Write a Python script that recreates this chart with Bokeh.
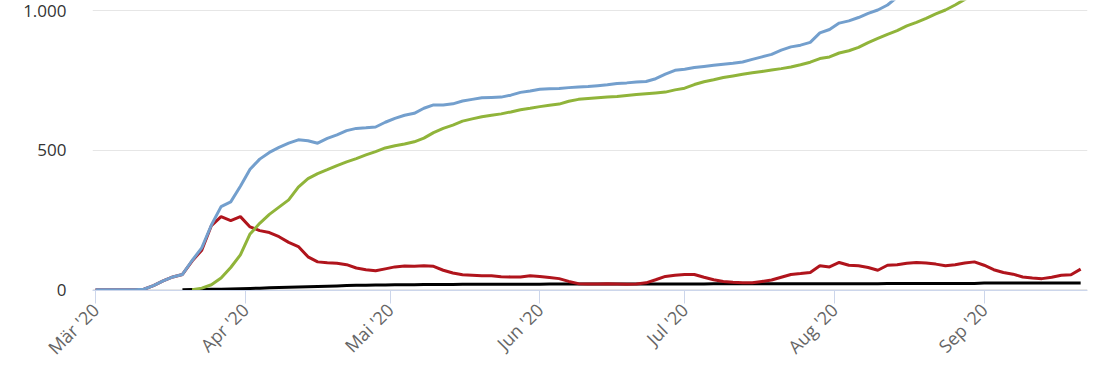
import math
import pandas as pd
from bokeh.plotting import figure
from bokeh.models import FixedTicker, CustomJSTickFormatter, Range1d
from bokeh.embed import file_html
from bokeh.resources import INLINE

nan = float("nan")

# values every 2 days starting 2020-03-01
start_date = "2020-03-01"
step = "2D"

confirmed = [
    0, 0, 0, 0, 0, 2, 15, 32, 46, 55,
    105, 150, 232, 298, 315, 371, 432, 468, 492, 510,
    525, 537, 534, 525, 542, 555, 570, 578, 580, 583,
    600, 614, 625, 632, 650, 662, 662, 666, 676, 682,
    688, 689, 690, 697, 707, 712, 718, 720, 721, 724,
    726, 728, 731, 734, 739, 741, 744, 746, 756, 772,
    786, 790, 796, 800, 804, 808, 811, 816, 825, 834,
    843, 858, 870, 876, 886, 920, 932, 955, 963, 975,
    990, 1002, 1020, 1048, 1075, 1092, 1110, 1128, 1145, 1160,
    1178, 1195, 1210, 1222, 1234, 1245, 1254, 1262, 1270, 1280,
    1290, 1298, 1310,
]

recovered = [
    nan, nan, nan, nan, nan, nan, nan, nan, nan, nan,
    0, 6, 18, 42, 80, 125, 200, 238, 270, 296,
    322, 368, 398, 416, 430, 445, 458, 470, 483, 495,
    508, 516, 522, 530, 543, 563, 578, 590, 604, 612,
    620, 625, 630, 637, 645, 650, 656, 661, 665, 675,
    682, 685, 688, 690, 692, 696, 699, 702, 705, 708,
    716, 722, 735, 745, 752, 760, 766, 772, 777, 782,
    787, 792, 798, 806, 815, 828, 834, 848, 856, 868,
    885, 900, 915, 928, 945, 958, 972, 988, 1002, 1020,
    1040, 1058, 1075, 1090, 1105, 1120, 1135, 1150, 1162, 1175,
    1188, 1200, 1212,
]

active = [
    0, 0, 0, 0, 0, 2, 15, 32, 46, 55,
    103, 142, 230, 262, 248, 262, 225, 212, 205, 190,
    170, 155, 118, 100, 97, 95, 90, 78, 72, 68,
    75, 82, 85, 84, 86, 84, 70, 60, 54, 52,
    50, 50, 47, 46, 46, 50, 48, 44, 40, 30,
    22, 21, 21, 22, 21, 20, 21, 25, 36, 48,
    52, 55, 55, 45, 36, 30, 27, 25, 25, 30,
    35, 45, 55, 58, 62, 86, 82, 98, 88, 86,
    80, 70, 88, 90, 95, 98, 96, 92, 86, 90,
    96, 100, 88, 72, 62, 56, 46, 42, 40, 45,
    52, 54, 74,
]

deaths = [
    nan, nan, nan, nan, nan, nan, nan, nan, nan, 0,
    1, 1, 2, 2, 3, 4, 5, 6, 7, 8,
    9, 10, 11, 12, 13, 14, 15, 16, 16, 17,
    17, 18, 18, 18, 19, 19, 19, 19, 20, 20,
    20, 20, 20, 20, 20, 20, 20, 21, 21, 21,
    21, 21, 21, 21, 21, 21, 21, 21, 21, 21,
    21, 21, 21, 21, 22, 22, 22, 22, 22, 22,
    22, 22, 22, 22, 22, 22, 22, 22, 22, 22,
    22, 22, 23, 23, 23, 23, 23, 23, 23, 23,
    23, 23, 24, 24, 24, 24, 24, 24, 24, 24,
    24, 24, 24,
]

x_tick_dates = ["2020-03-01", "2020-04-01", "2020-05-01", "2020-06-01",
                "2020-07-01", "2020-08-01", "2020-09-01"]
x_tick_labels = ["Mär '20", "Apr '20", "Mai '20", "Jun '20", "Jul '20", "Aug '20", "Sep '20"]
y_ticks = [0, 500, 1000]
y_tick_labels = ["0", "500", "1.000"]

dates = pd.date_range(start_date, periods=len(confirmed), freq=step)

def ms(d):
    return pd.Timestamp(d).value // 10**6

x_start = pd.Timestamp("2020-02-29 09:00")
x_end = pd.Timestamp("2020-09-22 10:00")

p = figure(width=1110, height=370, x_axis_type="datetime",
           output_backend="svg", toolbar_location=None,
           x_range=Range1d(x_start, x_end), y_range=Range1d(-2.5, 1036),
           min_border_left=92, min_border_right=23, min_border_top=0,
           min_border_bottom=78)

p.outline_line_color = None
p.background_fill_color = "white"
p.border_fill_color = "white"

p.line(dates, deaths, line_color="#000000", line_width=3)
p.line(dates, active, line_color="#b0141c", line_width=3)
p.line(dates, recovered, line_color="#90b43a", line_width=3)
p.line(dates, confirmed, line_color="#739fcd", line_width=3)

# x axis
xt = [ms(d) for d in x_tick_dates]
p.xaxis.ticker = FixedTicker(ticks=xt, minor_ticks=[])
p.xaxis.formatter = CustomJSTickFormatter(
    args=dict(tvals=xt, tlabels=x_tick_labels),
    code="const i = tvals.indexOf(tick); return i >= 0 ? tlabels[i] : '';")
p.xaxis.major_label_orientation = math.pi / 4
p.xaxis.axis_line_color = "#ccd6eb"
p.xaxis.major_tick_line_color = "#ccd6eb"
p.xaxis.major_tick_out = 13
p.xaxis.major_tick_in = 0
p.xaxis.minor_tick_line_color = None
p.xaxis.major_label_text_font = "Open Sans"
p.xaxis.major_label_text_font_size = "18px"
p.xaxis.major_label_text_line_height = 0.8
p.xaxis.major_label_text_color = "#666666"
p.xaxis.major_label_standoff = 3
p.xgrid.grid_line_color = None

# y axis
p.yaxis.ticker = FixedTicker(ticks=y_ticks, minor_ticks=[])
p.yaxis.formatter = CustomJSTickFormatter(
    args=dict(tvals=y_ticks, tlabels=y_tick_labels),
    code="const i = tvals.indexOf(tick); return i >= 0 ? tlabels[i] : '';")
p.yaxis.axis_line_color = None
p.yaxis.major_tick_line_color = None
p.yaxis.minor_tick_line_color = None
p.yaxis.major_tick_out = 0
p.yaxis.major_tick_in = 0
p.yaxis.major_label_standoff = 26
p.yaxis.major_label_text_font = "Open Sans"
p.yaxis.major_label_text_font_size = "17px"
p.yaxis.major_label_text_color = "#333333"
p.ygrid.grid_line_color = "#e6e6e6"
p.ygrid.grid_line_width = 1

open("out.html", "w").write(file_html(p, INLINE))
